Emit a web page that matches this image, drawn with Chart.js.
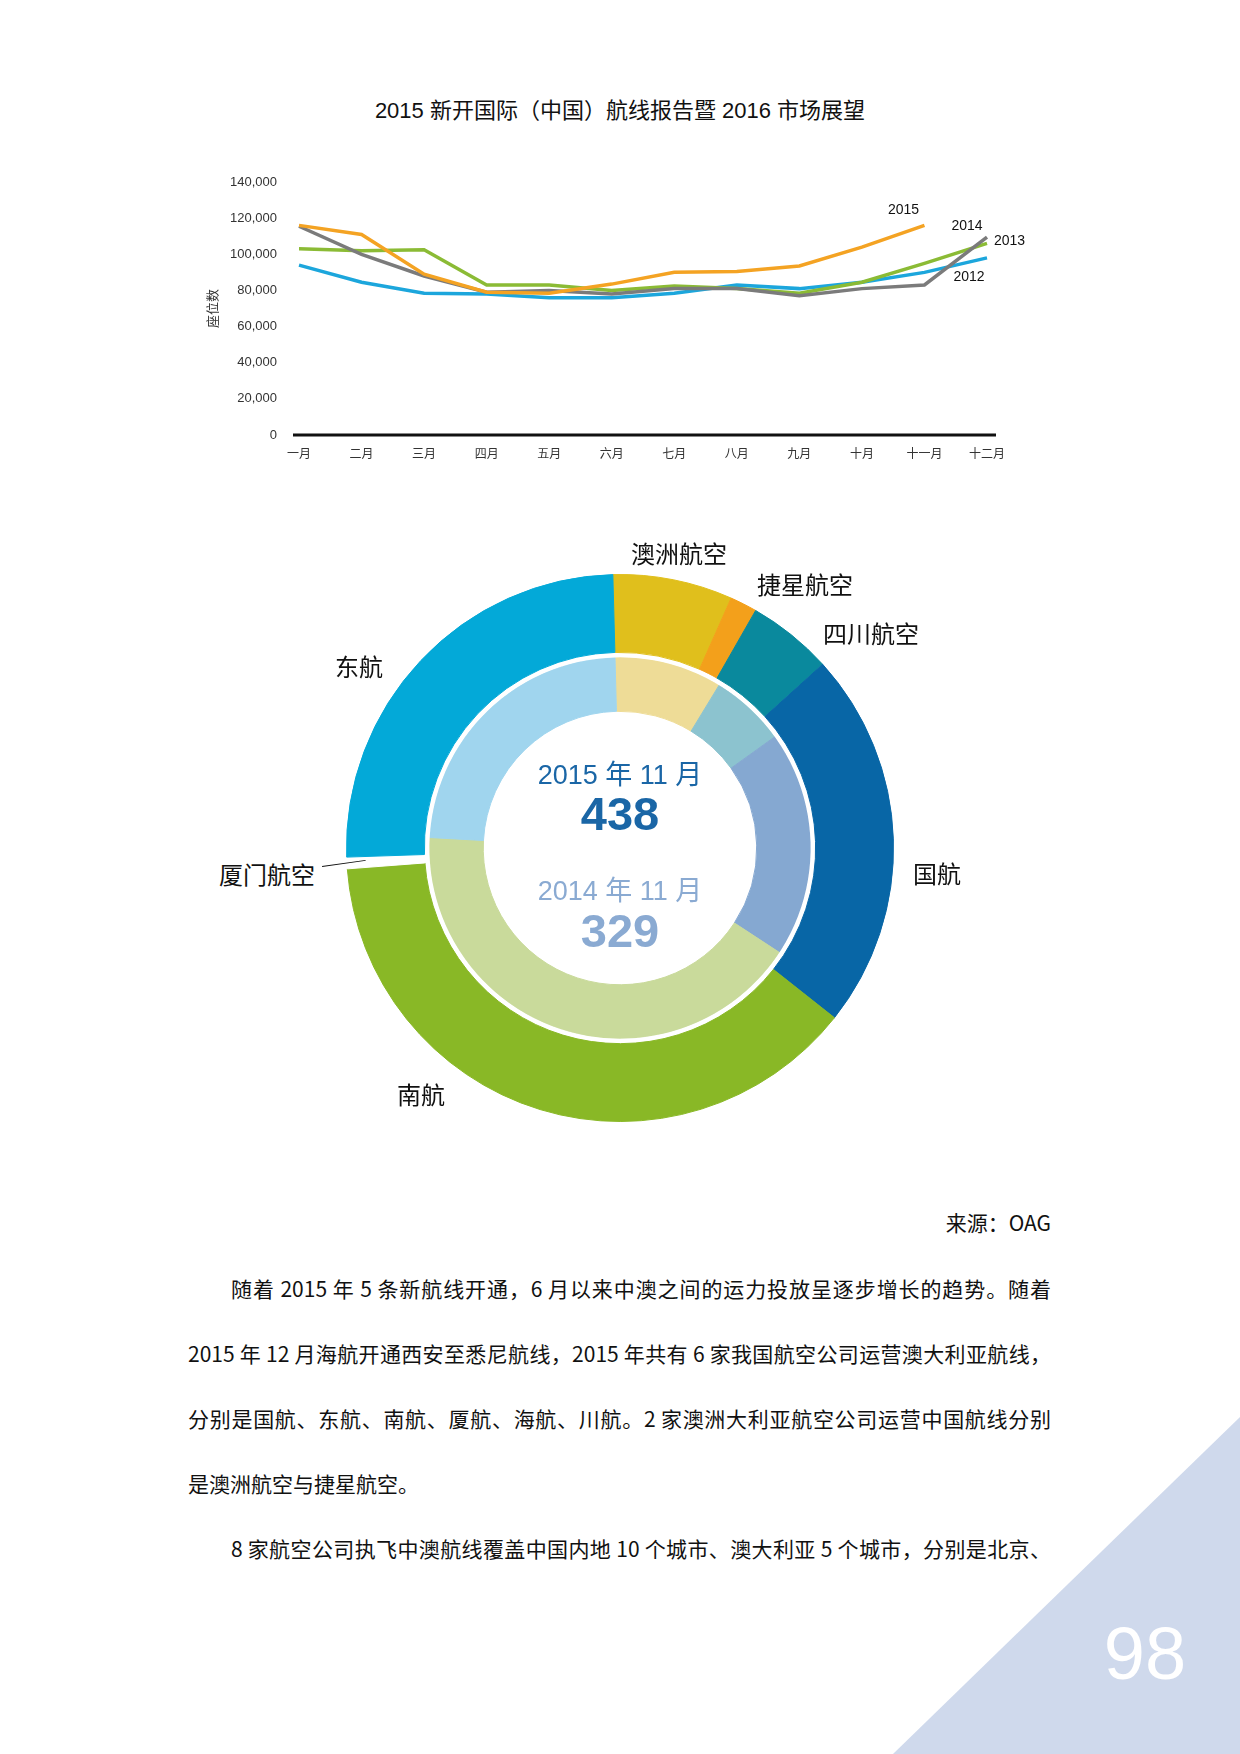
<!DOCTYPE html>
<html lang="zh-CN">
<head>
<meta charset="utf-8">
<script src="https://cdn.jsdelivr.net/npm/chart.js@4.4.1/dist/chart.umd.min.js"></script>
<style>
  body { margin: 0; background: #fff; }
  #page { position: relative; width: 1240px; height: 1754px; overflow: hidden; background: #fff;
          font-family: "Noto Sans CJK SC", "Liberation Sans", sans-serif; color: #111; }
  .abs { position: absolute; }
  .c { transform: translate(-50%, -50%); white-space: nowrap; }
  #title { left: 620px; top: 108px; font: 22px "Liberation Sans", "Noto Sans CJK SC", sans-serif; }
  #line-canvas { left: 180px; top: 150px; }
  #donut-canvas { left: 320px; top: 548px; }
  .airline { font-size: 24px; color: #111; }
  .center-month { font: 27px "Liberation Sans", "Noto Sans CJK SC", sans-serif; }
  .center-num { font: bold 47px "Liberation Sans", sans-serif; }
  #leader { left: 322px; top: 866px; width: 44px; height: 0; border-top: 1.6px solid #111;
            transform: rotate(-8deg); transform-origin: 0 0; }
  #source { right: 189px; top: 1207px; font-size: 21px; }
  .para { left: 188px; width: 863px; font-size: 21px; line-height: 30px; text-align: justify; text-align-last: justify; }
  .para.indent { left: 231px; width: 820px; }
  .para.last { text-align-last: left; }
  #corner { left: 893px; top: 1417px; width: 347px; height: 337px; background: #cfd9ec;
            clip-path: polygon(100% 0, 100% 100%, 0 100%); }
  #pageno { left: 1145px; top: 1653px; font: 74px "Liberation Sans", sans-serif; color: #fff; }
</style>
</head>
<body>
<div id="page">
  <div id="title" class="abs c">2015 新开国际（中国）航线报告暨 2016 市场展望</div>

  <canvas id="line-canvas" class="abs" width="860" height="330"></canvas>
  <canvas id="donut-canvas" class="abs" width="600" height="600"></canvas>

  <div class="abs c airline" style="left:679px;top:552px">澳洲航空</div>
  <div class="abs c airline" style="left:805px;top:583px">捷星航空</div>
  <div class="abs c airline" style="left:871px;top:632px">四川航空</div>
  <div class="abs c airline" style="left:359px;top:665px">东航</div>
  <div class="abs c airline" style="left:937px;top:872px">国航</div>
  <div class="abs c airline" style="left:267px;top:873px">厦门航空</div>
  <div class="abs c airline" style="left:421px;top:1093px">南航</div>
  <div id="leader" class="abs"></div>

  <div class="abs c center-month" style="left:620px;top:772px;color:#1a66a6">2015 年 11 月</div>
  <div class="abs c center-num" style="left:620px;top:813px;color:#1a66a6">438</div>
  <div class="abs c center-month" style="left:620px;top:888px;color:#8aaad2">2014 年 11 月</div>
  <div class="abs c center-num" style="left:620px;top:930px;color:#8aaad2">329</div>

  <div id="source" class="abs">来源：OAG</div>

  <div class="abs para indent" style="top:1273px">随着 2015 年 5 条新航线开通，6 月以来中澳之间的运力投放呈逐步增长的趋势。随着</div>
  <div class="abs para" style="top:1338px">2015 年 12 月海航开通西安至悉尼航线，2015 年共有 6 家我国航空公司运营澳大利亚航线，</div>
  <div class="abs para" style="top:1403px">分别是国航、东航、南航、厦航、海航、川航。2 家澳洲大利亚航空公司运营中国航线分别</div>
  <div class="abs para last" style="top:1468px">是澳洲航空与捷星航空。</div>
  <div class="abs para indent" style="top:1533px">8 家航空公司执飞中澳航线覆盖中国内地 10 个城市、澳大利亚 5 个城市，分别是北京、</div>

  <div id="corner" class="abs"></div>
  <div id="pageno" class="abs c">98</div>
</div>

<script>
/* ---------------------------------------------------------------
   数据：月度座位数（中澳航线）
   --------------------------------------------------------------- */
const MONTHS = ["一月", "二月", "三月", "四月", "五月", "六月", "七月", "八月", "九月", "十月", "十一月", "十二月"];
const SEATS_2015 = [116000, 111000, 89000, 79000, 78500, 83500, 90000, 90500, 93500, 104000, 116000, null];
const SEATS_2014 = [115500, 100000, 88000, 79000, 80000, 78000, 81000, 81000, 77000, 81000, 83000, 109500];
const SEATS_2013 = [103000, 102000, 102500, 83000, 83000, 80000, 82500, 81000, 78500, 84500, 95000, 106000];
const SEATS_2012 = [94000, 84500, 78500, 78000, 76000, 76000, 78500, 83000, 81000, 84500, 90000, 98000];
const Y_TICKS = [0, 20000, 40000, 60000, 80000, 100000, 120000, 140000];

/* 数据：11 月航班量（按航空公司，顺时针自 12 点方向） */
const AIRLINES = ["澳洲航空", "捷星航空", "四川航空", "国航", "南航", "厦门航空", "东航"];
const FLIGHTS_NOV_2015 = [31, 7, 22, 98, 167, 3, 110];
const FLIGHTS_NOV_2014 = [30, 0, 21, 63, 137, 0, 78];

const SERIES_COLORS = { y2015: "#f4a323", y2014: "#7b7b7b", y2013: "#8bbb35", y2012: "#1ca6dc" };
const COLORS_2015 = ["#e0bf1c", "#f3a01b", "#0a899d", "#0866a6", "#89b826", "#ffffff", "#03a9d8"];
const COLORS_2014 = ["#eedc97", "#f6cf8a", "#8cc3cf", "#85a8d1", "#c9da9b", "#ffffff", "#a0d5ee"];

const FONT_LATIN = "'Liberation Sans', 'Noto Sans CJK SC', sans-serif";

/* ---------------------------------------------------------------
   折线图
   --------------------------------------------------------------- */
// 每条线末端的年份标注（相对末端点的偏移）
const endLabels = {
  id: "endLabels",
  afterDatasetsDraw(chart) {
    const { ctx } = chart;
    const offsets = [[-21, -15, "center"], [-20, -11, "center"], [7, -2, "left"], [-18, 19, "center"]];
    ctx.save();
    ctx.font = "14px " + FONT_LATIN;
    ctx.fillStyle = "#111";
    ctx.textBaseline = "middle";
    chart.data.datasets.forEach((ds, i) => {
      const meta = chart.getDatasetMeta(i);
      let idx = ds.data.length - 1;
      while (idx > 0 && ds.data[idx] == null) idx--;
      const pt = meta.data[idx];
      const [dx, dy, align] = offsets[i];
      ctx.textAlign = align;
      ctx.fillText(ds.label, pt.x + dx, pt.y + dy);
    });
    ctx.restore();
  },
};

// 加粗的底部基线（略超出首末月份）
const baseLine = {
  id: "baseLine",
  beforeDatasetsDraw(chart) {
    const { ctx, chartArea, scales } = chart;
    const y = scales.y.getPixelForValue(0);
    ctx.save();
    ctx.strokeStyle = "#111";
    ctx.lineWidth = 3;
    ctx.beginPath();
    ctx.moveTo(chartArea.left - 6, y);
    ctx.lineTo(chartArea.right + 9, y);
    ctx.stroke();
    ctx.restore();
  },
};

function lineDataset(label, data, color) {
  return { label, data, borderColor: color, backgroundColor: color, borderWidth: 3.5, pointRadius: 0, tension: 0, spanGaps: false };
}

new Chart(document.getElementById("line-canvas"), {
  type: "line",
  data: {
    labels: MONTHS,
    datasets: [
      lineDataset("2015", SEATS_2015, SERIES_COLORS.y2015),
      lineDataset("2014", SEATS_2014, SERIES_COLORS.y2014),
      lineDataset("2013", SEATS_2013, SERIES_COLORS.y2013),
      lineDataset("2012", SEATS_2012, SERIES_COLORS.y2012),
    ],
  },
  options: {
    responsive: false,
    animation: false,
    layout: { padding: { top: 32, right: 53, left: 0, bottom: 0 } },
    plugins: { legend: { display: false }, tooltip: { enabled: false } },
    scales: {
      x: {
        grid: { display: false },
        border: { display: false },
        ticks: { color: "#333", font: { size: 12, family: "'Noto Sans CJK SC', sans-serif" }, padding: 3, maxRotation: 0, autoSkip: false },
        afterFit: (s) => { s.height = 45; },
      },
      y: {
        min: 0,
        max: 140000,
        afterBuildTicks: (s) => { s.ticks = Y_TICKS.map((v) => ({ value: v })); },
        grid: { display: false, drawTicks: false },
        border: { display: false },
        ticks: { color: "#333", font: { size: 13, family: FONT_LATIN }, padding: 22, callback: (v) => v.toLocaleString("en-US") },
        title: { display: true, text: "座位数", color: "#333", font: { size: 13, family: "'Noto Sans CJK SC', sans-serif" }, padding: { top: 24, bottom: 0 } },
        afterFit: (s) => { s.width = 119; },
      },
    },
  },
  plugins: [baseLine, endLabels],
});

/* ---------------------------------------------------------------
   双层环形图：外圈 2015 年 11 月，内圈 2014 年 11 月
   --------------------------------------------------------------- */
new Chart(document.getElementById("donut-canvas"), {
  type: "doughnut",
  data: {
    labels: AIRLINES,
    datasets: [
      { label: "2015 年 11 月", data: FLIGHTS_NOV_2015, backgroundColor: COLORS_2015, borderColor: COLORS_2015, borderWidth: 1, weight: 78 },
      { label: "gap", data: [1], backgroundColor: ["#ffffff"], borderColor: ["#ffffff"], borderWidth: 0, weight: 5 },
      { label: "2014 年 11 月", data: FLIGHTS_NOV_2014, backgroundColor: COLORS_2014, borderColor: COLORS_2014, borderWidth: 1, weight: 54 },
    ],
  },
  options: {
    responsive: false,
    animation: false,
    rotation: -1.5,
    cutout: "50%",
    layout: { padding: 26 },
    plugins: { legend: { display: false }, tooltip: { enabled: false } },
  },
});
</script>
</body>
</html>
